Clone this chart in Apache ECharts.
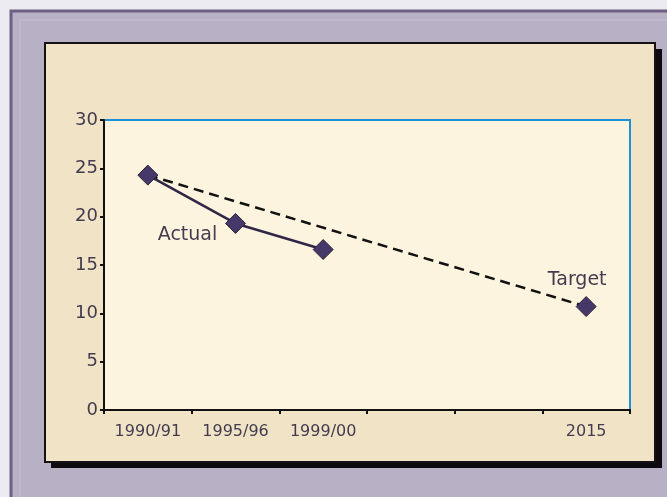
<!DOCTYPE html>
<html>
<head>
<meta charset="utf-8">
<script src="https://cdn.jsdelivr.net/npm/echarts@6/dist/echarts.min.js"></script>
<style>
  html, body { margin: 0; padding: 0; background: #ecebf1; }
  #chart { width: 667px; height: 497px; }
</style>
</head>
<body>
<div id="chart"></div>
<script>
// Categories along the time axis (two unlabelled slots before 2015)
const categories = ['1990/91', '1995/96', '1999/00', '', '', '2015'];
// Observed rate
const actualValues = [24.3, 19.3, 16.6, null, null, null];
// Straight path from the 1990/91 baseline to the 2015 target
const targetValues = [24.3, null, null, null, null, 10.7];
// Value axis ticks
const yTicks = [0, 5, 10, 15, 20, 25, 30];

const textColor = '#433c4f';
const markColor = '#47386a';

const chart = echarts.init(document.getElementById('chart'), null, { renderer: 'canvas' });

const actualData = actualValues.map((v, i) => {
  if (i === 1) {
    return {
      value: v,
      label: {
        show: true, formatter: 'Actual', position: 'inside', offset: [-48, 12],
        color: textColor, fontSize: 19, fontFamily: 'DejaVu Sans'
      }
    };
  }
  return v;
});

const targetData = targetValues.map((v, i) => {
  if (i === 5) {
    return {
      value: v,
      symbol: 'diamond',
      label: {
        show: true, formatter: 'Target', position: 'inside', offset: [-9, -27],
        color: textColor, fontSize: 19, fontFamily: 'DejaVu Sans'
      }
    };
  }
  return { value: v, symbol: 'none' };
});

chart.setOption({
  animation: false,
  backgroundColor: '#ecebf1',
  graphic: [
    { type: 'rect', z: -10, shape: { x: 11, y: 11, width: 670, height: 500 },
      style: { fill: '#b8b1c6', stroke: '#6c6184', lineWidth: 3 } },
    { type: 'rect', z: -10, shape: { x: 20, y: 20, width: 660, height: 490 },
      style: { fill: 'none', stroke: '#c8c1d4', lineWidth: 1 } },
    { type: 'rect', z: -9, shape: { x: 51, y: 49, width: 611, height: 419 },
      style: { fill: '#0d0b10' } },
    { type: 'rect', z: -8, shape: { x: 45, y: 43, width: 610, height: 419 },
      style: { fill: '#f1e4c6', stroke: '#141216', lineWidth: 2 } }
  ],
  grid: {
    left: 104, right: 37, top: 120, bottom: 87,
    show: true, backgroundColor: '#fdf4df', borderColor: '#1d8fd4', borderWidth: 2
  },
  xAxis: {
    type: 'category',
    data: categories,
    boundaryGap: true,
    axisLine: { lineStyle: { color: '#111', width: 2 } },
    axisTick: { show: true, length: 4, lineStyle: { color: '#111', width: 2 } },
    axisLabel: { color: textColor, fontSize: 16, fontFamily: 'DejaVu Sans', margin: 14, interval: 0 },
    splitLine: { show: false }
  },
  yAxis: {
    type: 'value',
    min: yTicks[0],
    max: yTicks[yTicks.length - 1],
    interval: 5,
    axisLine: { show: true, lineStyle: { color: '#111', width: 2 } },
    axisTick: { show: true, length: 4, lineStyle: { color: '#111', width: 2 } },
    axisLabel: { color: textColor, fontSize: 18, fontFamily: 'DejaVu Sans', margin: 6 },
    splitLine: { show: false }
  },
  series: [
    {
      name: 'Target',
      type: 'line',
      data: targetData,
      connectNulls: true,
      symbolSize: 20,
      itemStyle: { color: markColor, borderColor: '#2a2238', borderWidth: 1 },
      lineStyle: { color: '#111', width: 2.5, type: [10, 6] },
      z: 2
    },
    {
      name: 'Actual',
      type: 'line',
      data: actualData,
      symbol: 'diamond',
      symbolSize: 20,
      itemStyle: { color: markColor, borderColor: '#2a2238', borderWidth: 1 },
      lineStyle: { color: '#2f2745', width: 2.5 },
      z: 3
    }
  ]
});
</script>
</body>
</html>
